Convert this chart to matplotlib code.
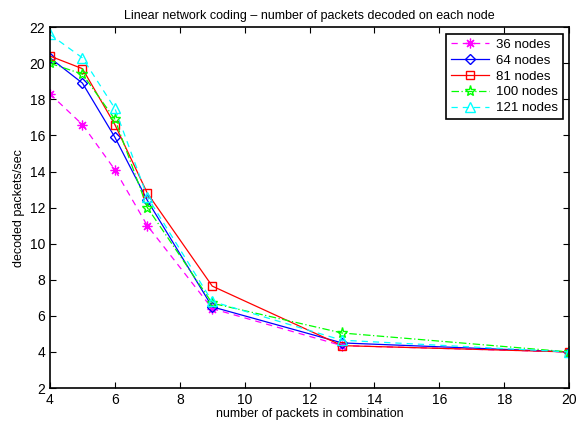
import numpy as np
import matplotlib
matplotlib.use('Agg')
import matplotlib.pyplot as plt

plt.rcParams['font.family'] = ['Liberation Sans', 'DejaVu Sans']

packets = [4, 5, 6, 7, 9, 13, 20]
nodes_36 = [18.3, 16.6, 14.1, 11.0, 6.4, 4.35, 4.0]
nodes_64 = [20.3, 18.9, 15.9, 12.4, 6.5, 4.5, 4.0]
nodes_81 = [20.4, 19.7, 16.6, 12.8, 7.65, 4.35, 4.0]
nodes_100 = [20.0, 19.4, 16.9, 12.0, 6.7, 5.05, 4.0]
nodes_121 = [21.6, 20.3, 17.5, 12.6, 6.8, 4.65, 4.0]
labels = ['36 nodes', '64 nodes', '81 nodes', '100 nodes', '121 nodes']

fig = plt.figure(figsize=(5.86, 4.25), dpi=100)
ax = fig.add_axes([0.0853, 0.087, 0.886, 0.849])

# matlab-ish styles
ax.plot(packets, nodes_36, color='magenta', linestyle=(0, (5, 4)), marker=(8, 2, 0),
        markersize=7, markeredgewidth=0.9, linewidth=0.9, label=labels[0])
ax.plot(packets, nodes_64, color='blue', linestyle='-', marker='D',
        markersize=5, markerfacecolor='none', linewidth=0.9, label=labels[1])
ax.plot(packets, nodes_81, color='red', linestyle='-', marker='s',
        markersize=6, markerfacecolor='none', linewidth=0.9, label=labels[2])
ax.plot(packets, nodes_100, color='lime', linestyle=(0, (6, 2, 1, 2)), marker='*',
        markersize=8, markerfacecolor='none', linewidth=0.9, label=labels[3])
ax.plot(packets, nodes_121, color='cyan', linestyle=(0, (5, 4)), marker='^',
        markersize=7, markerfacecolor='none', linewidth=0.9, label=labels[4])

ax.set_xlim(4, 20)
ax.set_ylim(2, 22)
ax.set_xticks(np.arange(4, 21, 2))
ax.set_yticks(np.arange(2, 23, 2))
ax.tick_params(direction='in', top=True, right=True, labelsize=10, length=4)
for s in ax.spines.values():
    s.set_linewidth(1.2)

ax.set_xlabel('number of packets in combination', fontsize=9, labelpad=1)
ax.set_ylabel('decoded packets/sec', fontsize=9, labelpad=3)
ax.set_title('Linear network coding \u2013 number of packets decoded on each node', fontsize=9, pad=6)

leg = ax.legend(loc='upper right', fontsize=9.5, fancybox=False, edgecolor='black',
                framealpha=1, borderpad=0.35, labelspacing=0.28, handlelength=2.9,
                handletextpad=0.5, borderaxespad=0.5)
leg.get_frame().set_linewidth(1.2)

fig.savefig('out.png', dpi=100)
